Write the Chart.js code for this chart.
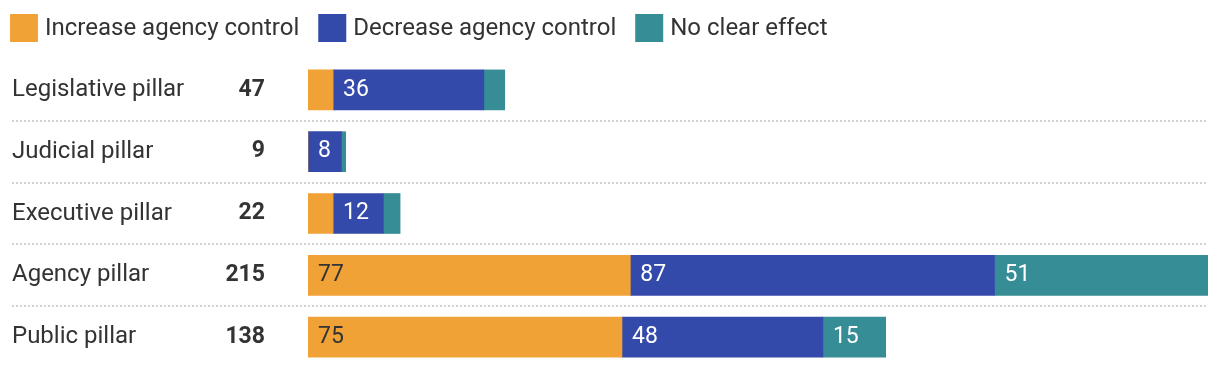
<!DOCTYPE html>
<html>
<head>
<meta charset="utf-8">
<script src="https://cdn.jsdelivr.net/npm/chart.js@4"></script>
<style>
  html, body { margin: 0; padding: 0; background: #fff; }
  #wrap { width: 1220px; height: 368px; position: relative; }
</style>
</head>
<body>
<div id="wrap"><canvas id="chart"></canvas></div>
<script>
const categories = ["Legislative pillar", "Judicial pillar", "Executive pillar", "Agency pillar", "Public pillar"];
const totals = [47, 9, 22, 215, 138];
const increaseControl = [6, 0, 6, 77, 75];
const decreaseControl = [36, 8, 12, 87, 48];
const noClearEffect = [5, 1, 4, 51, 15];

const seriesNames = ["Increase agency control", "Decrease agency control", "No clear effect"];
const seriesColors = ["#f0a236", "#344aab", "#368d96"];
const labelColors = ["#333333", "#ffffff", "#ffffff"];

const FONT = "Roboto, 'Noto Sans', sans-serif";
const TEXT = "#333333";

// legend, row labels, separators and value labels drawn on the canvas
const decorPlugin = {
    id: 'decor',
    beforeDatasetsDraw(chart) {
        const ctx = chart.ctx;
        const yScale = chart.scales.y;
        const area = chart.chartArea;
        ctx.save();
        // dotted separators between rows
        ctx.strokeStyle = "#d2d2d2";
        ctx.lineWidth = 2;
        ctx.setLineDash([2, 2]);
        for (let i = 0; i < categories.length - 1; i++) {
            const y = Math.round((yScale.getPixelForValue(i) + yScale.getPixelForValue(i + 1)) / 2);
            ctx.beginPath();
            ctx.moveTo(12, y);
            ctx.lineTo(area.right, y);
            ctx.stroke();
        }
        ctx.setLineDash([]);

        // row names and totals
        ctx.textBaseline = "middle";
        categories.forEach((name, i) => {
            const y = yScale.getPixelForValue(i);
            ctx.fillStyle = TEXT;
            ctx.font = "24px " + FONT;
            ctx.textAlign = "left";
            ctx.fillText(name, 12, y);
            ctx.font = "bold 23px " + FONT;
            ctx.textAlign = "right";
            ctx.fillText(String(totals[i]), 265, y);
        });

        // legend
        ctx.font = "24px " + FONT;
        ctx.textAlign = "left";
        let x = 10;
        seriesNames.forEach((name, i) => {
            ctx.fillStyle = seriesColors[i];
            ctx.fillRect(x, 14, 28, 28);
            ctx.fillStyle = TEXT;
            ctx.fillText(name, x + 35, 29);
            x += 35 + ctx.measureText(name).width + 19;
        });
        ctx.restore();
    },
    afterDatasetsDraw(chart) {
        const ctx = chart.ctx;
        ctx.save();
        ctx.font = "23px " + FONT;
        ctx.textBaseline = "middle";
        ctx.textAlign = "left";
        chart.data.datasets.forEach((ds, di) => {
            const meta = chart.getDatasetMeta(di);
            meta.data.forEach((bar, i) => {
                const w = Math.abs(bar.x - bar.base);
                if (w < 30) return;
                ctx.fillStyle = labelColors[di];
                ctx.fillText(String(ds.data[i]), Math.min(bar.x, bar.base) + 10, bar.y);
            });
        });
        ctx.restore();
    }
};

const seriesData = [increaseControl, decreaseControl, noClearEffect];

new Chart(document.getElementById('chart'), {
    type: 'bar',
    data: {
        labels: categories,
        datasets: seriesNames.map((name, i) => ({
            label: name,
            data: seriesData[i],
            backgroundColor: seriesColors[i],
            borderWidth: 0,
            barThickness: 40
        }))
    },
    options: {
        indexAxis: 'y',
        responsive: true,
        maintainAspectRatio: false,
        animation: false,
        layout: { padding: { top: 59, right: 12, bottom: 0, left: 0 } },
        plugins: {
            legend: { display: false },
            tooltip: { enabled: false }
        },
        scales: {
            x: {
                stacked: true,
                min: 0,
                max: 215,
                display: false
            },
            y: {
                stacked: true,
                grid: { display: false },
                border: { display: false },
                ticks: { display: false },
                afterFit(scale) { scale.width = 308; }
            }
        }
    },
    plugins: [decorPlugin]
});
</script>
</body>
</html>
